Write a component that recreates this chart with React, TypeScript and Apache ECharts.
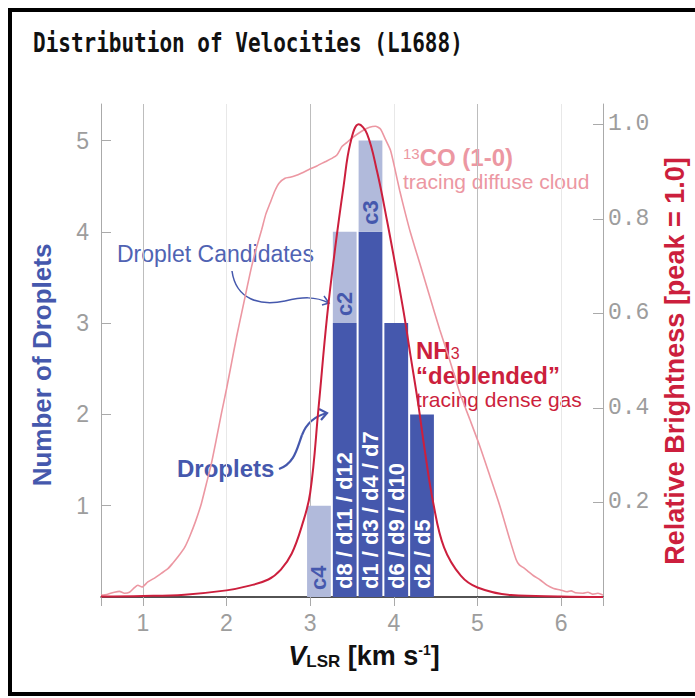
import React, { useEffect, useRef } from 'react';
import * as echarts from 'echarts';

// ---------- data ----------
const TITLE = 'Distribution of Velocities (L1688)';

const BIN_CENTERS = [3.105, 3.413, 3.721, 4.029, 4.337];
const BIN_WIDTH = 0.308;
const DROPLETS = [0, 3, 4, 3, 2];
const CANDIDATES = [1, 1, 1, 0, 0];
const DROPLET_LABELS = ['', 'd8 / d11 / d12', 'd1 / d3 / d4 / d7', 'd6 / d9 / d10', 'd2 / d5'];
const CANDIDATE_LABELS = ['c4', 'c2', 'c3', '', ''];

const X_LABELS = [1, 2, 3, 4, 5, 6];
const X_TICKS = [0.5, 1, 2, 3, 4, 5, 6, 6.5];
const LEFT_LABELS = [1, 2, 3, 4, 5];
const RIGHT_LABELS = [0.2, 0.4, 0.6, 0.8, 1.0];

const NH3_V = [0.5, 1.0, 1.5, 2.0, 2.25, 2.5, 2.65, 2.78, 2.9, 3.0, 3.1, 3.2, 3.3, 3.4, 3.48, 3.58, 3.68, 3.8, 3.92, 4.03, 4.12, 4.2, 4.29, 4.37, 4.47, 4.6, 4.8, 5.0, 5.4, 6.0, 6.5];
const NH3_B = [0.001, 0.002, 0.005, 0.014, 0.023, 0.037, 0.058, 0.092, 0.15, 0.22, 0.4, 0.59, 0.74, 0.87, 0.96, 1.0, 0.98, 0.9, 0.795, 0.69, 0.6, 0.51, 0.41, 0.31, 0.2, 0.105, 0.045, 0.02, 0.004, 0.001, 0.0];

const CO_V = [0.5, 0.58, 0.66, 0.72, 0.78, 0.84, 0.9, 0.94, 0.99, 1.06, 1.14, 1.22, 1.3, 1.36, 1.42, 1.5, 1.56, 1.63, 1.7, 1.76, 1.82, 1.88, 1.94, 2.0, 2.06, 2.12, 2.18, 2.24, 2.3, 2.36, 2.42, 2.47, 2.52, 2.58, 2.63, 2.7, 2.76, 2.82, 2.9, 2.98, 3.08, 3.18, 3.26, 3.32, 3.38, 3.44, 3.5, 3.57, 3.64, 3.71, 3.78, 3.84, 3.9, 3.96, 4.02, 4.07, 4.14, 4.2, 4.31, 4.43, 4.55, 4.67, 4.79, 4.91, 5.03, 5.15, 5.27, 5.38, 5.46, 5.5, 5.55, 5.6, 5.67, 5.75, 5.83, 5.91, 5.99, 6.07, 6.12, 6.17, 6.26, 6.32, 6.38, 6.44, 6.5];
const CO_B = [0.004, 0.006, 0.01, 0.012, 0.008, 0.01, 0.02, 0.025, 0.021, 0.032, 0.04, 0.05, 0.06, 0.072, 0.085, 0.105, 0.128, 0.16, 0.198, 0.24, 0.283, 0.335, 0.389, 0.44, 0.495, 0.55, 0.6, 0.65, 0.699, 0.74, 0.777, 0.81, 0.833, 0.86, 0.876, 0.886, 0.888, 0.891, 0.897, 0.904, 0.912, 0.921, 0.928, 0.935, 0.953, 0.962, 0.971, 0.98, 0.988, 0.994, 0.996, 0.99, 0.968, 0.945, 0.9, 0.86, 0.81, 0.77, 0.706, 0.635, 0.565, 0.5, 0.431, 0.375, 0.318, 0.255, 0.191, 0.125, 0.08, 0.068, 0.062, 0.055, 0.045, 0.036, 0.025, 0.018, 0.015, 0.011, 0.013, 0.009, 0.008, 0.01, 0.006, 0.008, 0.004];

// ---------- styles ----------
const DARK = '#4558ad';
const LIGHT = '#b1badb';
const CRIMSON = '#cc1f3d';
const PINK = '#ec97a2';
const SANS = '"Liberation Sans", Arial, Helvetica, sans-serif';
const MONO = '"Liberation Mono", "DejaVu Sans Mono", monospace';
const GRID_L = 101, GRID_T = 104, GRID_W = 502, GRID_H = 493;

export default function App() {
  const ref = useRef<HTMLDivElement>(null);

  useEffect(() => {
    if (!ref.current) return;
    const chart = echarts.init(ref.current, null, { renderer: 'svg' });

    const barData = BIN_CENTERS.map((c, i) => [c, DROPLETS[i], CANDIDATES[i]]);

    const option: any = {
      animation: false,
      grid: { left: GRID_L, top: GRID_T, width: GRID_W, height: GRID_H, containLabel: false },
      xAxis: {
        type: 'value',
        min: 0.5,
        max: 6.5,
        interval: 0.5,
        axisLine: { show: true, onZero: false, lineStyle: { color: '#1a1a1a', width: 1.5 } },
        axisTick: { show: true, customValues: X_TICKS, length: 9, lineStyle: { color: '#aaaaaa' } },
        axisLabel: { customValues: X_LABELS, color: '#9d9d9d', fontSize: 23, fontFamily: SANS, margin: 14 },
        splitLine: { show: true, lineStyle: { color: ['#e8e8e8', '#bdbdbd'], width: 1 } },
      },
      yAxis: [
        {
          type: 'value',
          min: 0,
          max: 5.4,
          interval: 1,
          position: 'left',
          axisLine: { show: true, lineStyle: { color: '#aaaaaa' } },
          axisTick: { show: true, inside: true, length: 10, customValues: LEFT_LABELS, lineStyle: { color: '#aaaaaa' } },
          axisLabel: { customValues: LEFT_LABELS, color: '#9d9d9d', fontSize: 23, fontFamily: SANS, margin: 12 },
          splitLine: { show: false },
        },
        {
          type: 'value',
          min: 0,
          max: 1.043,
          interval: 0.2,
          position: 'right',
          axisLine: { show: true, lineStyle: { color: '#aaaaaa' } },
          axisTick: { show: true, inside: true, length: 10, customValues: RIGHT_LABELS, lineStyle: { color: '#aaaaaa' } },
          axisLabel: {
            customValues: RIGHT_LABELS,
            formatter: (v: number) => v.toFixed(1),
            color: '#9d9d9d', fontSize: 23, fontFamily: MONO, margin: 5,
          },
          splitLine: { show: false },
        },
      ],
      series: [
        {
          type: 'custom',
          xAxisIndex: 0,
          yAxisIndex: 0,
          data: barData,
          renderItem: (params: any, api: any) => {
            const i = params.dataIndex;
            const c = api.value(0);
            const d = api.value(1);
            const k = api.value(2);
            const bl = api.coord([c - BIN_WIDTH / 2, 0]);
            const br = api.coord([c + BIN_WIDTH / 2, 0]);
            const x = bl[0] + 1;
            const w = br[0] - bl[0] - 2;
            const yBase = bl[1];
            const yD = api.coord([c, d])[1];
            const yK = api.coord([c, d + k])[1];
            const cx = (bl[0] + br[0]) / 2;
            const children: any[] = [];
            if (d > 0) children.push({ type: 'rect', shape: { x, y: yD, width: w, height: yBase - yD }, style: { fill: DARK } });
            if (k > 0) children.push({ type: 'rect', shape: { x, y: yK, width: w, height: yD - yK }, style: { fill: LIGHT } });
            if (DROPLET_LABELS[i]) {
              children.push({
                type: 'text', x: cx, y: yBase - 8, rotation: Math.PI / 2,
                style: { text: DROPLET_LABELS[i], fill: '#ffffff', font: `bold 22px ${SANS}`, align: 'left', verticalAlign: 'middle' },
              });
            }
            if (CANDIDATE_LABELS[i]) {
              children.push({
                type: 'text', x: cx, y: yD - 7, rotation: Math.PI / 2,
                style: { text: CANDIDATE_LABELS[i], fill: DARK, font: `bold 22px ${SANS}`, align: 'left', verticalAlign: 'middle' },
              });
            }
            return { type: 'group', children };
          },
        },
        {
          type: 'line',
          xAxisIndex: 0,
          yAxisIndex: 1,
          data: CO_V.map((v, i) => [v, CO_B[i]]),
          showSymbol: false,
          smooth: 0.2,
          lineStyle: { color: PINK, width: 1.6 },
        },
        {
          type: 'line',
          xAxisIndex: 0,
          yAxisIndex: 1,
          data: NH3_V.map((v, i) => [v, NH3_B[i]]),
          showSymbol: false,
          smooth: 0.4,
          lineStyle: { color: CRIMSON, width: 2 },
        },
      ],
      graphic: [
        {
          type: 'text', x: 33, y: 43, scaleY: 1.25,
          style: { text: TITLE, fill: '#111', font: `bold 21px "DejaVu Sans Mono", monospace`, align: 'left', verticalAlign: 'middle' },
        },
        {
          type: 'text', x: 42, y: 365, rotation: Math.PI / 2,
          style: { text: 'Number of Droplets', fill: DARK, font: `bold 26px ${SANS}`, align: 'center', verticalAlign: 'middle' },
        },
        {
          type: 'text', x: 675, y: 361, rotation: Math.PI / 2,
          style: { text: 'Relative Brightness [peak = 1.0]', fill: CRIMSON, font: `bold 27px ${SANS}`, align: 'center', verticalAlign: 'middle' },
        },
        {
          type: 'text', x: 364, y: 656,
          style: {
            text: '{v|V}{s|LSR}{n| [km s}{p|-1}{n|]}',
            align: 'center', verticalAlign: 'middle',
            rich: {
              v: { fontSize: 27, fontWeight: 'bold', fontStyle: 'italic', fontFamily: SANS, fill: '#111' },
              s: { fontSize: 17, fontWeight: 'bold', fontFamily: SANS, fill: '#111', verticalAlign: 'bottom' },
              n: { fontSize: 27, fontWeight: 'bold', fontFamily: SANS, fill: '#111' },
              p: { fontSize: 14, fontWeight: 'bold', fontFamily: SANS, fill: '#111', verticalAlign: 'top' },
            },
          },
        },
        {
          type: 'text', x: 117, y: 254,
          style: { text: 'Droplet Candidates', fill: '#5063b3', font: `23px ${SANS}`, align: 'left', verticalAlign: 'middle' },
        },
        {
          type: 'bezierCurve',
          shape: { x1: 232, y1: 271, cpx1: 236, cpy1: 300, cpx2: 260, cpy2: 306, x2: 285, y2: 301 },
          style: { stroke: DARK, lineWidth: 1.5, fill: 'none' },
        },
        {
          type: 'bezierCurve',
          shape: { x1: 285, y1: 301, cpx1: 302, cpy1: 297, cpx2: 315, cpy2: 296, x2: 329, y2: 303 },
          style: { stroke: DARK, lineWidth: 1.5, fill: 'none' },
        },
        {
          type: 'polyline',
          shape: { points: [[324, 296], [329, 303], [322, 305]] },
          style: { stroke: DARK, lineWidth: 1.5, fill: 'none' },
        },
        {
          type: 'text', x: 177, y: 468,
          style: { text: 'Droplets', fill: DARK, font: `bold 24px ${SANS}`, align: 'left', verticalAlign: 'middle' },
        },
        {
          type: 'bezierCurve',
          shape: { x1: 279, y1: 469, cpx1: 295, cpy1: 463, cpx2: 297, cpy2: 448, x2: 302, y2: 435 },
          style: { stroke: DARK, lineWidth: 2.2, fill: 'none' },
        },
        {
          type: 'bezierCurve',
          shape: { x1: 302, y1: 435, cpx1: 307, cpy1: 422, cpx2: 315, cpy2: 416, x2: 327, y2: 413 },
          style: { stroke: DARK, lineWidth: 2.2, fill: 'none' },
        },
        {
          type: 'polyline',
          shape: { points: [[319, 409], [327, 413], [321, 420]] },
          style: { stroke: DARK, lineWidth: 2.2, fill: 'none' },
        },
        {
          type: 'text', x: 403, y: 157,
          style: {
            text: '{sup|13}{b|CO (1-0)}',
            align: 'left', verticalAlign: 'middle',
            rich: {
              sup: { fontSize: 15, fontFamily: SANS, fill: PINK, verticalAlign: 'top', lineHeight: 22 },
              b: { fontSize: 24, fontWeight: 'bold', fontFamily: SANS, fill: PINK, lineHeight: 22 },
            },
          },
        },
        {
          type: 'text', x: 403, y: 181,
          style: { text: 'tracing diffuse cloud', fill: PINK, font: `21px ${SANS}`, align: 'left', verticalAlign: 'middle', lineHeight: 20 },
        },
        {
          type: 'text', x: 416, y: 350,
          style: {
            text: '{b|NH}{sub|3}',
            align: 'left', verticalAlign: 'middle',
            rich: {
              b: { fontSize: 24, fontWeight: 'bold', fontFamily: SANS, fill: CRIMSON, lineHeight: 22 },
              sub: { fontSize: 16, fontFamily: SANS, fill: CRIMSON, verticalAlign: 'bottom', lineHeight: 22 },
            },
          },
        },
        {
          type: 'text', x: 416, y: 375,
          style: { text: '\u201Cdeblended\u201D', fill: CRIMSON, font: `bold 24px ${SANS}`, align: 'left', verticalAlign: 'middle', lineHeight: 22 },
        },
        {
          type: 'text', x: 416, y: 399,
          style: { text: 'tracing dense gas', fill: CRIMSON, font: `21px ${SANS}`, align: 'left', verticalAlign: 'middle', lineHeight: 20 },
        },
      ],
    };

    chart.setOption(option);
    return () => chart.dispose();
  }, []);

  return (
    <div style={{ position: 'fixed', left: 0, top: 0, width: 695, height: 698, background: '#fff', overflow: 'hidden' }}>
      <div ref={ref} style={{ position: 'absolute', left: 0, top: 0, width: 695, height: 698 }} />
      <div
        style={{
          position: 'absolute', left: 8, top: 8, width: 700, height: 688,
          border: '4px solid #000', boxSizing: 'border-box', pointerEvents: 'none',
        }}
      />
    </div>
  );
}
